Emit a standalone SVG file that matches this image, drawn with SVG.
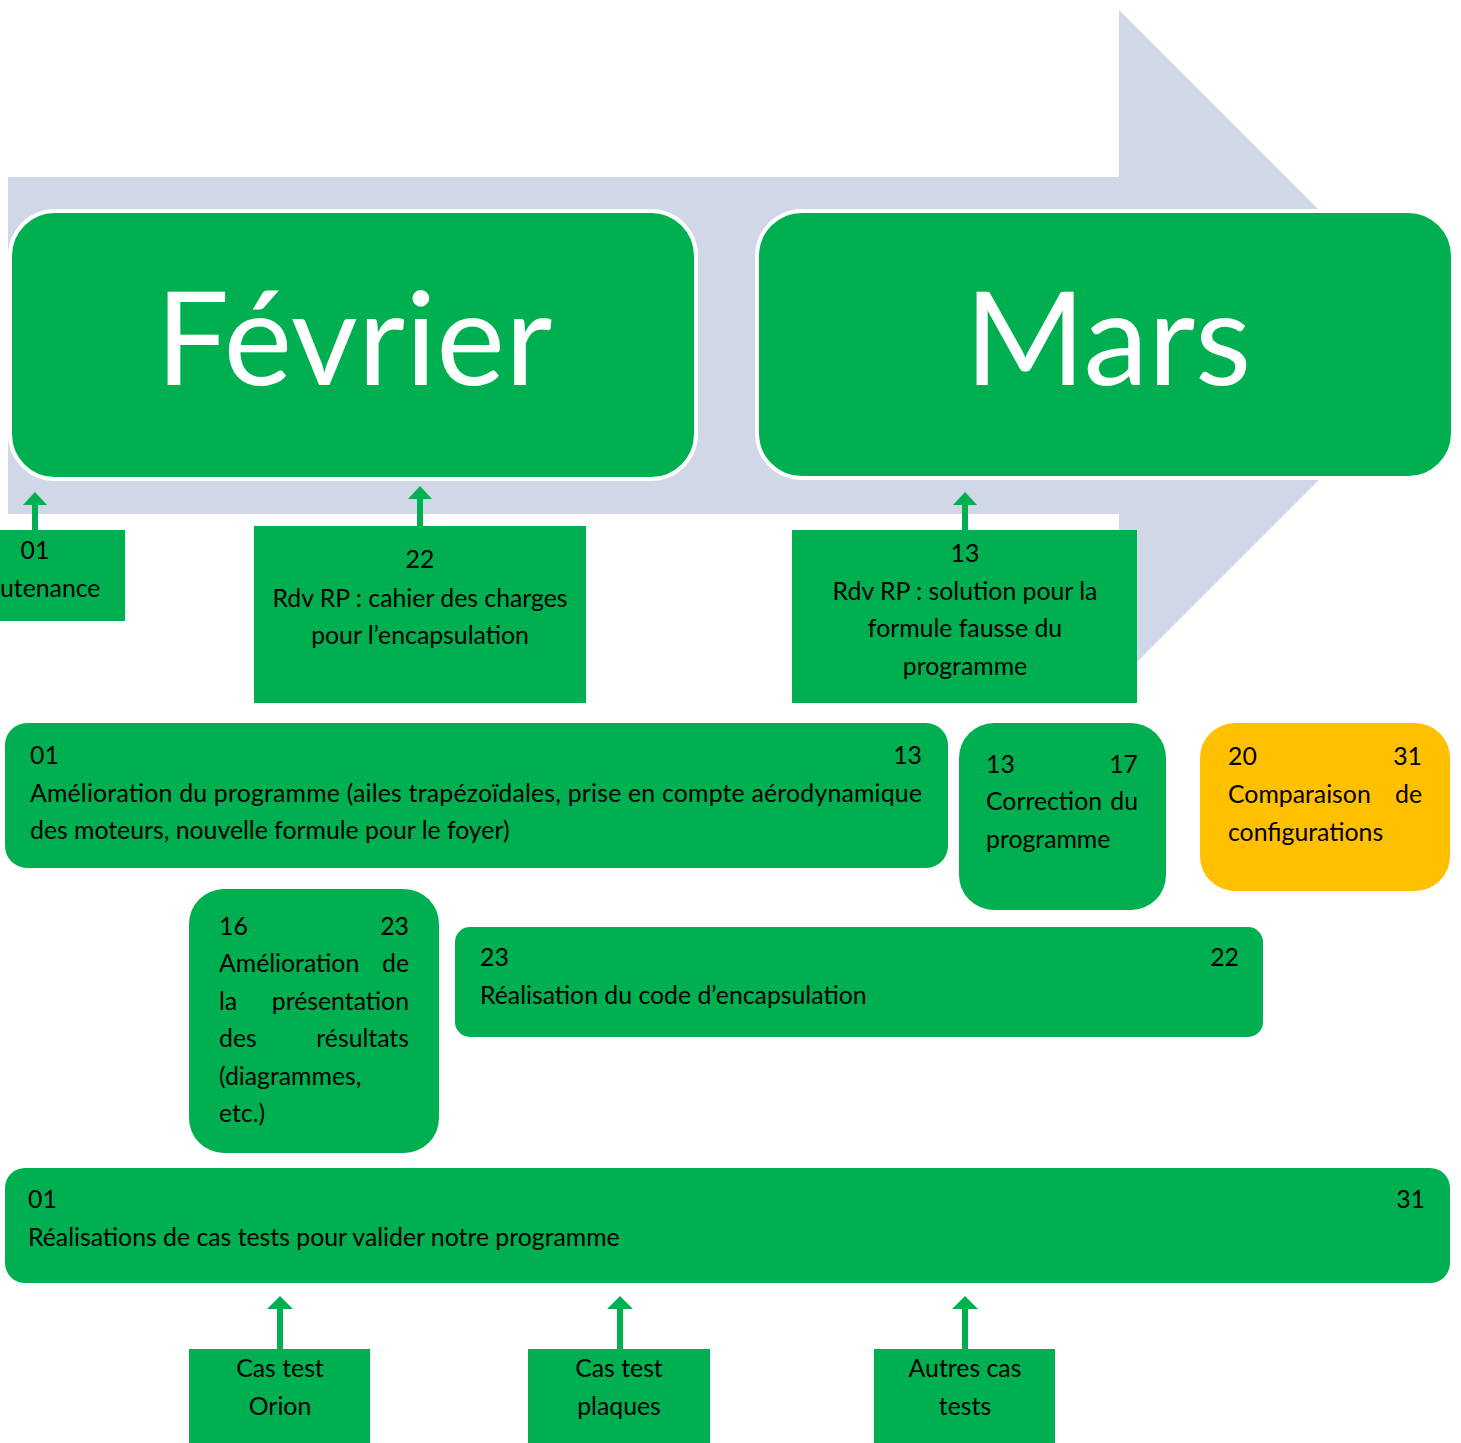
<svg xmlns="http://www.w3.org/2000/svg" width="1461" height="1443" viewBox="0 0 1461 1443">
<defs>
<style>
.bg{fill:#D0D7E7}
.g{fill:#00B050}
.o{fill:#FFC000}
.big{fill:#00B050;stroke:#FFFFFF;stroke-width:4}
.t{font-family:Lato,"Open Sans",sans-serif;font-size:24.8px;fill:#000000}
.c{text-anchor:middle}
.e{text-anchor:end}
.m{font-family:Lato,"Open Sans",sans-serif;font-size:130px;fill:#FFFFFF;text-anchor:middle}
.ar{fill:#00B050}
</style>
</defs>
<rect width="1461" height="1443" fill="#FFFFFF"/>
<g id="timeline">
<polygon class="bg" points="8,177 1119,177 1119,10 1454,345 1119,680 1119,514 8,514"/>
</g>
<g id="fevrier">
<rect class="big" x="10" y="211" width="686" height="268" rx="45" ry="45"/>
<text class="m" x="354" y="385">Février</text>
</g>
<g id="mars">
<rect class="big" x="757" y="211" width="696" height="267" rx="45" ry="45"/>
<text class="m" x="1108" y="385">Mars</text>
</g>
<g id="connectors">
<polygon class="ar" points="32,530 32,505 23,505 35,492 47,505 38,505 38,530"/>
<polygon class="ar" points="417,526 417,499 408,499 420,486 432,499 423,499 423,526"/>
<polygon class="ar" points="962,530 962,505 953,505 965,492 977,505 968,505 968,530"/>
<polygon class="ar" points="277,1349 277,1309 267,1309 280,1296 293,1309 283,1309 283,1349"/>
<polygon class="ar" points="617,1349 617,1309 607,1309 620,1296 633,1309 623,1309 623,1349"/>
<polygon class="ar" points="962,1349 962,1309 952,1309 965,1296 978,1309 968,1309 968,1349"/>
</g>
<g id="soutenance">
<rect class="g" x="0" y="530" width="125" height="91"/>
<text class="t c" x="35" y="559">01</text>
<text class="t" x="0" y="597">utenance</text>
</g>
<g id="rdv22">
<rect class="g" x="254" y="526" width="332" height="177"/>
<text class="t c" x="420" y="568">22</text>
<text class="t c" x="420" y="607">Rdv RP : cahier des charges</text>
<text class="t c" x="420" y="644">pour l’encapsulation</text>
</g>
<g id="rdv13">
<rect class="g" x="792" y="530" width="345" height="173"/>
<text class="t c" x="965" y="562">13</text>
<text class="t c" x="965" y="600">Rdv RP : solution pour la</text>
<text class="t c" x="965" y="637">formule fausse du</text>
<text class="t c" x="965" y="675">programme</text>
</g>
<g id="amelioration">
<rect class="g" x="5" y="723" width="943" height="145" rx="22" ry="22"/>
<text class="t" x="30" y="764">01</text>
<text class="t e" x="922" y="764">13</text>
<text class="t" x="30" y="802" textLength="892" lengthAdjust="spacing">Amélioration du programme (ailes trapézoïdales, prise en compte aérodynamique</text>
<text class="t" x="30" y="839">des moteurs, nouvelle formule pour le foyer)</text>
</g>
<g id="correction">
<rect class="g" x="959" y="723" width="207" height="187" rx="35" ry="35"/>
<text class="t" x="986" y="773">13</text>
<text class="t e" x="1138" y="773">17</text>
<text class="t" x="986" y="810">Correction</text>
<text class="t e" x="1138" y="810">du</text>
<text class="t" x="986" y="848">programme</text>
</g>
<g id="comparaison">
<rect class="o" x="1200" y="723" width="250" height="168" rx="35" ry="35"/>
<text class="t" x="1228" y="765">20</text>
<text class="t e" x="1422" y="765">31</text>
<text class="t" x="1228" y="803">Comparaison</text>
<text class="t e" x="1422" y="803">de</text>
<text class="t" x="1228" y="841">configurations</text>
</g>
<g id="presentation">
<rect class="g" x="189" y="889" width="250" height="264" rx="35" ry="35"/>
<text class="t" x="219" y="935">16</text>
<text class="t e" x="409" y="935">23</text>
<text class="t" x="219" y="972">Amélioration</text>
<text class="t e" x="409" y="972">de</text>
<text class="t" x="219" y="1010">la</text>
<text class="t e" x="409" y="1010">présentation</text>
<text class="t" x="219" y="1047">des</text>
<text class="t e" x="409" y="1047">résultats</text>
<text class="t" x="219" y="1085">(diagrammes,</text>
<text class="t" x="219" y="1122">etc.)</text>
</g>
<g id="encapsulation">
<rect class="g" x="455" y="927" width="808" height="110" rx="15" ry="15"/>
<text class="t" x="480" y="966">23</text>
<text class="t e" x="1239" y="966">22</text>
<text class="t" x="480" y="1004">Réalisation du code d’encapsulation</text>
</g>
<g id="castests">
<rect class="g" x="5" y="1168" width="1445" height="115" rx="20" ry="20"/>
<text class="t" x="28" y="1208">01</text>
<text class="t e" x="1425" y="1208">31</text>
<text class="t" x="28" y="1246">Réalisations de cas tests pour valider notre programme</text>
</g>
<g id="orion">
<rect class="g" x="189" y="1349" width="181" height="94"/>
<text class="t c" x="280" y="1377">Cas test</text>
<text class="t c" x="280" y="1415">Orion</text>
</g>
<g id="plaques">
<rect class="g" x="528" y="1349" width="182" height="94"/>
<text class="t c" x="619" y="1377">Cas test</text>
<text class="t c" x="619" y="1415">plaques</text>
</g>
<g id="autres">
<rect class="g" x="874" y="1349" width="181" height="94"/>
<text class="t c" x="965" y="1377">Autres cas</text>
<text class="t c" x="965" y="1415">tests</text>
</g>
</svg>
